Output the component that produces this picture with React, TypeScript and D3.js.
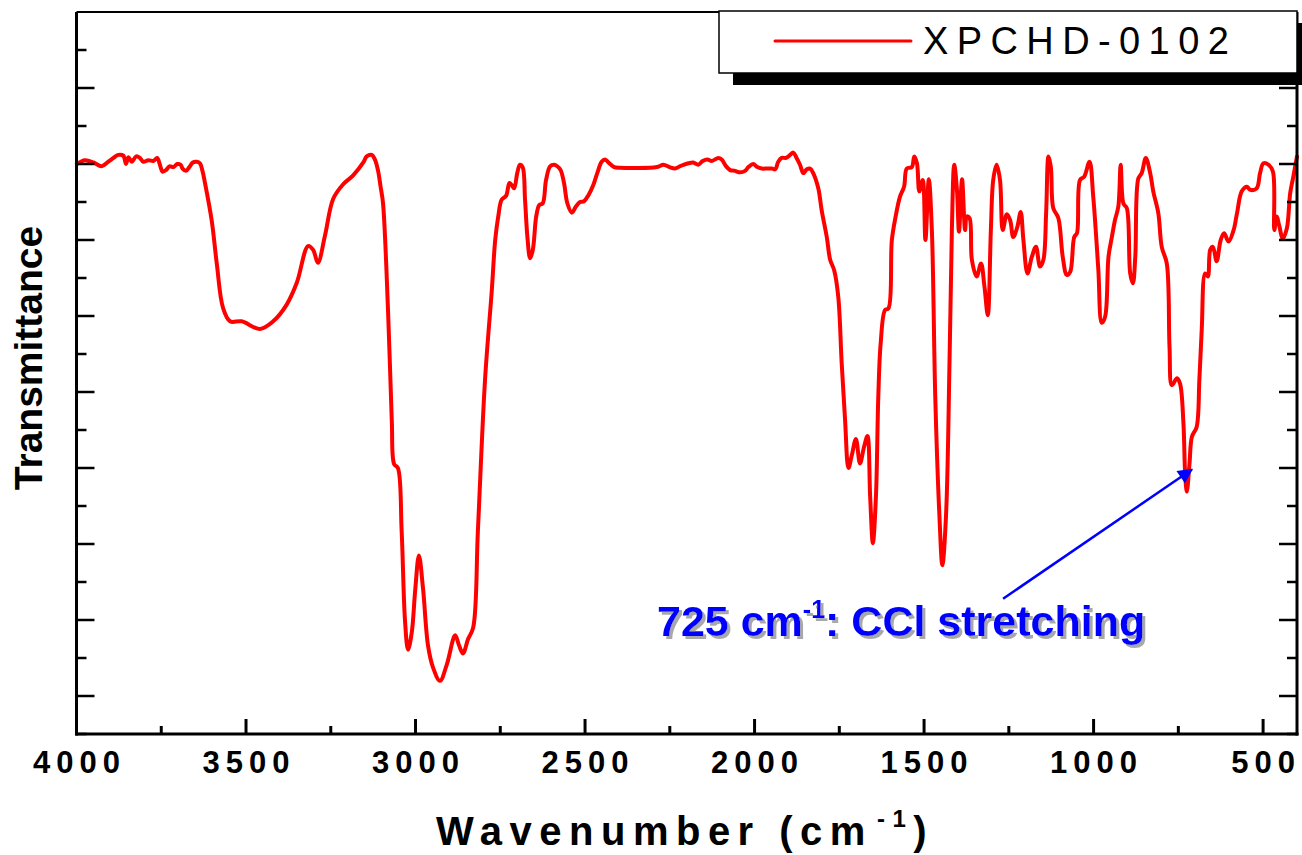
import React from "react";
import * as d3 from "d3";

const wavenumber: number[] = [
  3999,3975,3950,3926,3906,3891,3877,3862,3854,3847,3837,3824,3813,3803,3788,3773,3762,3754,3746,3736,
  3726,3714,3703,3693,3687,3677,3667,3657,3645,3636,3628,3621,
  3601,3586,3568,3547,3513,3459,3420,3380,3350,3317,3302,3288,3267,3243,3214,3184,3154,3144,3129,3119,
  3110,3103,3096,3081,3070,3063,3052,3041,3031,3022,3011,3001,2990,2978,2963,2948,2928,2908,2883,2872,
  2860,2845,2830,2816,2795,
  2775,2765,2756,2746,2733,2723,2716,2709,2700,2692,2684,2677,2670,2662,2654,2644,2635,2625,2615,2603,
  2591,2582,2572,2562,2552,2539,2527,2515,2503,2490,2476,2464,2451,2441,2431,2414,2397,
  2288,2269,2251,2235,2220,2210,2195,2181,2166,2153,2139,2126,2107,2097,2084,2072,2058,2043,2028,2018,
  2004,1992,1979,1964,1949,1939,1930,1920,1907,1895,1886,1876,1866,1856,1846,1836,
  1827,1812,1802,1787,1777,1765,1753,1743,1733,1723,1713,1701,1689,1677,1667,1659,1651,1642,1635,1628,
  1615,1605,1595,1583,1571,1559,1551,1536,1529,1521,1514,1504,1496,1486,1477,1467,1455,1446,1435,1425,
  1418,1411,1403,1397,1388,1379,1374,1366,1359,1345,1332,1322,1312,1303,1296,1286,1276,1268,1256,1246,
  1237,1225,1215,1207,1195,1182,1170,1158,1148,1140,1133,1126,1119,1104,1091,1079,1069,1057,1049,1040,
  1028,1012,1001,986,976,966,956,946,937,927,920,912,902,892,884,877,868,858,846,833,
  824,809,799,784,776,769,754,745,735,730,725,717,710,696,688,681,671,663,656,648,
  637,625,615,602,587,577,563,548,538,519,509,499,484,471,467,460,452,442,430,420,
  411,400,
];

const transmittance: number[] = [
  70.0,70.5,70.2,69.7,70.3,70.8,71.2,71.1,70.0,70.9,70.3,71.0,70.8,70.3,70.5,70.4,70.8,69.9,69.0,69.2,
  69.7,69.6,70.0,69.9,69.4,69.1,69.6,70.2,70.3,70.1,69.0,67.5,
  62.5,56.8,51.1,49.3,49.3,48.3,49.3,51.5,54.4,59.2,58.7,57.0,60.6,65.4,67.3,68.5,70.2,71.0,71.2,70.5,
  69.0,67.0,64.9,50.6,36.2,30.5,30.0,21.8,9.9,6.1,8.4,13.9,18.5,14.2,6.6,3.7,2.0,4.1,8.0,6.7,
  5.6,7.5,9.0,21.8,41.6,
  53.4,60.0,63.1,65.3,65.8,67.5,67.2,66.8,68.8,69.9,69.6,65.3,60.4,57.6,58.7,63.1,64.6,64.8,67.9,69.7,
  69.9,69.7,69.2,67.5,64.8,63.6,64.4,65.0,65.1,65.9,67.2,68.8,70.3,70.6,70.2,69.6,69.5,
  69.6,69.9,69.6,69.4,69.7,69.9,70.1,70.2,69.9,70.4,70.6,70.4,70.8,70.6,69.7,69.2,69.1,68.9,69.1,69.6,
  70.0,69.6,69.4,69.4,69.4,69.3,70.3,70.8,70.8,71.2,71.5,70.8,69.9,68.8,69.3,69.4,
  68.8,66.8,63.9,60.4,57.4,56.0,52.5,43.8,36.3,30.0,31.7,33.8,30.6,32.8,34.2,26.2,20.1,26.2,39.4,46.4,
  50.8,51.0,60.0,63.3,65.7,67.0,69.4,69.6,71.0,70.1,66.4,67.9,60.0,68.0,61.3,39.4,24.0,17.2,24.0,43.8,
  61.3,69.9,66.6,61.1,68.0,61.3,63.1,62.9,57.4,55.2,56.9,53.9,50.1,61.3,67.9,69.9,67.9,61.3,63.4,62.6,
  60.4,61.7,63.7,60.0,55.6,57.8,59.1,56.5,57.4,63.5,71.0,69.6,64.2,62.9,57.8,55.4,55.8,60.4,60.9,67.9,
  68.3,70.3,65.7,56.1,49.1,49.9,57.8,60.4,62.6,64.4,69.9,64.8,64.2,55.6,54.3,57.8,68.1,68.8,70.8,68.8,
  66.4,63.5,59.1,56.9,45.9,40.9,41.8,41.1,35.9,29.3,26.9,30.6,34.1,35.4,41.6,48.2,55.6,55.2,58.7,59.1,
  57.2,60.0,60.9,59.8,61.3,63.5,66.4,67.0,66.6,66.8,68.8,70.1,69.9,69.0,61.3,63.1,61.8,60.2,61.5,66.2,
  68.3,71.0,
];

const xMajorTicks: number[] = [4000, 3500, 3000, 2500, 2000, 1500, 1000, 500];
const xMinorTicks: number[] = [3750, 3250, 2750, 2250, 1750, 1250, 750];
const yMajorTicks: number[] = [0, 10, 20, 30, 40, 50, 60, 70, 80];
const yMinorTicks: number[] = [-5, 5, 15, 25, 35, 45, 55, 65, 75, 85];

const seriesName = "XPCHD-0102";
const annotationPeak = 725;

const W = 1302;
const H = 855;
const left = 76.5;
const right = 1297;
const top = 12;
const bottom = 734;

export default function App() {
  const x = d3.scaleLinear().domain([4000, 400]).range([left, right]);
  const y = d3.scaleLinear().domain([-5, 90]).range([bottom, top]);

  const data = wavenumber.map((w, i) => [w, transmittance[i]] as [number, number]);
  const line = d3
    .line<[number, number]>()
    .x((d) => x(d[0]))
    .y((d) => y(d[1]))
    .curve(d3.curveCatmullRom.alpha(0.5));

  const font = "'Liberation Sans', Arial, sans-serif";
  const axisW = 3;

  // annotation geometry derived from scales
  const tipX = x(annotationPeak) + 5;
  const tipY = y(29.8);
  const startX = x(1267);
  const startY = y(12.8);

  return (
    <svg
      width={W}
      height={H}
      style={{ position: "absolute", left: 0, top: 0, background: "#fff" }}
      xmlns="http://www.w3.org/2000/svg"
    >
      <defs>
        <marker
          id="arrowHead"
          viewBox="0 0 10 10"
          refX="9"
          refY="5"
          markerWidth="7"
          markerHeight="6"
          orient="auto"
          markerUnits="strokeWidth"
        >
          <path d="M0,0 L10,5 L0,10 z" fill="#0000ff" />
        </marker>
        <filter id="textShadow" x="-5%" y="-20%" width="115%" height="150%">
          <feDropShadow dx="3" dy="3" stdDeviation="0.6" floodColor="#a8a8a8" floodOpacity="1" />
        </filter>
      </defs>
      <rect x={0} y={0} width={W} height={H} fill="#fff" />

      {/* spectrum */}
      <path
        d={line(data) || ""}
        fill="none"
        stroke="#ff0000"
        strokeWidth={4}
        strokeLinejoin="round"
        strokeLinecap="round"
      />

      {/* frame */}
      <line x1={left} x2={right} y1={top} y2={top} stroke="#000" strokeWidth={2} />
      <line x1={left} x2={left} y1={top} y2={bottom + 1.5} stroke="#000" strokeWidth={axisW} />
      <line x1={right} x2={right} y1={top} y2={bottom + 1.5} stroke="#000" strokeWidth={axisW} />
      <line x1={left - 1.5} x2={right + 1.5} y1={bottom} y2={bottom} stroke="#000" strokeWidth={axisW} />

      {/* y ticks left & right */}
      {yMajorTicks.map((t) => (
        <g key={"ym" + t}>
          <line x1={left} x2={left + 18} y1={y(t)} y2={y(t)} stroke="#000" strokeWidth={2.5} />
          <line x1={right} x2={right - 18} y1={y(t)} y2={y(t)} stroke="#000" strokeWidth={2.5} />
        </g>
      ))}
      {yMinorTicks.map((t) => (
        <g key={"yn" + t}>
          <line x1={left} x2={left + 10} y1={y(t)} y2={y(t)} stroke="#000" strokeWidth={2.5} />
          <line x1={right} x2={right - 10} y1={y(t)} y2={y(t)} stroke="#000" strokeWidth={2.5} />
        </g>
      ))}

      {/* x ticks */}
      {xMajorTicks.map((t) => (
        <line key={"xm" + t} x1={x(t)} x2={x(t)} y1={bottom} y2={bottom - 15} stroke="#000" strokeWidth={3} />
      ))}
      {xMinorTicks.map((t) => (
        <line key={"xn" + t} x1={x(t)} x2={x(t)} y1={bottom} y2={bottom - 8} stroke="#000" strokeWidth={3} />
      ))}
      {xMajorTicks.map((t) => (
        <text
          key={"xl" + t}
          x={x(t) + 3}
          y={773}
          textAnchor="middle"
          fontFamily={font}
          fontWeight="bold"
          fontSize={31}
          letterSpacing={6}
          fill="#000"
        >
          {t}
        </text>
      ))}

      {/* axis titles */}
      <text
        x={436}
        y={845}
        fontFamily={font}
        fontWeight="bold"
        fontSize={40}
        letterSpacing={7.5}
        fill="#000"
      >
        Wavenumber (cm
        <tspan fontSize={24} dy={-18} dx={4}>-1</tspan>
        <tspan fontSize={40} dy={18}>)</tspan>
      </text>
      <text
        transform={`translate(42, 358) rotate(-90)`}
        textAnchor="middle"
        fontFamily={font}
        fontWeight="bold"
        fontSize={39}
        fill="#000"
      >
        Transmittance
      </text>

      {/* legend */}
      <rect x={733} y={23} width={580} height={62} fill="#000" />
      <rect x={719} y={11} width={578} height={62} fill="#fff" stroke="#000" strokeWidth={1.5} />
      <line x1={775} x2={911} y1={41} y2={41} stroke="#ff0000" strokeWidth={3} strokeLinecap="round" />
      <text x={923} y={54} fontFamily={font} fontSize={38} letterSpacing={8.4} fill="#000">
        {seriesName}
      </text>

      {/* annotation */}
      <line
        x1={startX}
        y1={startY}
        x2={tipX}
        y2={tipY}
        stroke="#0000ff"
        strokeWidth={2.5}
        markerEnd="url(#arrowHead)"
      />
      <text
        x={657}
        y={636}
        fontFamily={font}
        fontWeight="bold"
        fontSize={43}
        fill="#0000ff"
        filter="url(#textShadow)"
      >
        725 cm<tspan fontSize={25} dy={-18}>-1</tspan>
        <tspan dy={18}>: CCl stretching</tspan>
      </text>
    </svg>
  );
}
